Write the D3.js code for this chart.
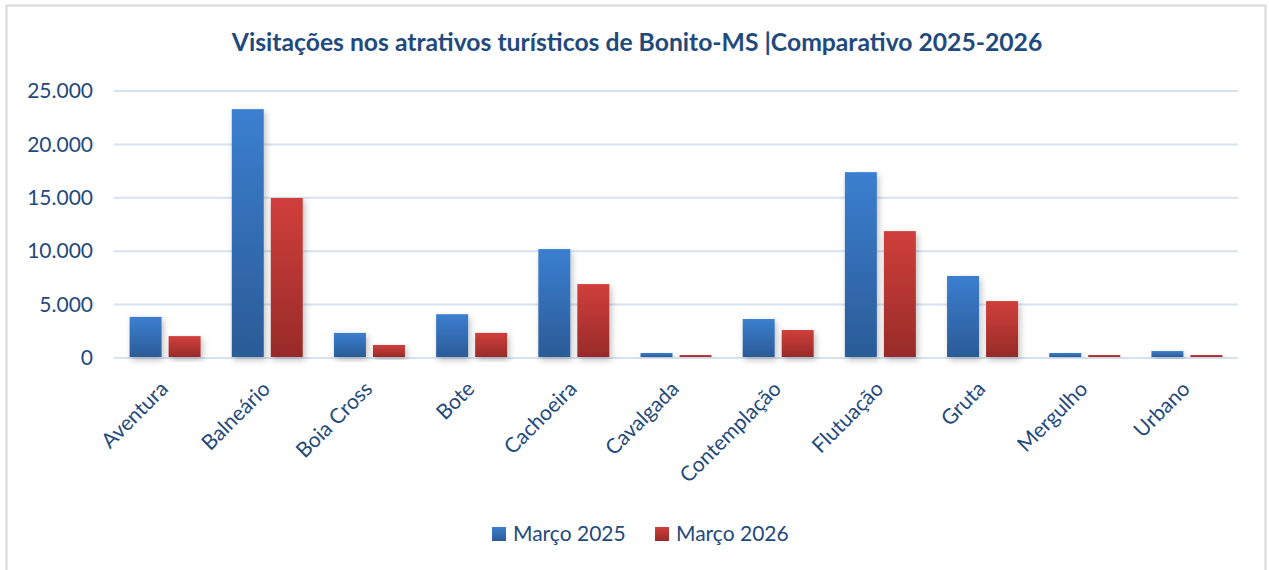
<!DOCTYPE html>
<html>
<head>
<meta charset="utf-8">
<script src="https://cdn.jsdelivr.net/npm/d3@7"></script>
<style>
  body { margin: 0; background: #fff; }
  svg { display: block; font-family: Lato, "Open Sans", sans-serif; }
</style>
</head>
<body>
<div id="chart"></div>
<script>
// data
var categories = ["Aventura", "Balneário", "Boia Cross", "Bote", "Cachoeira", "Cavalgada",
                  "Contemplação", "Flutuação", "Gruta", "Mergulho", "Urbano"];
var seriesNames = ["Março 2025", "Março 2026"];
var marco2025 = [3850, 23300, 2350, 4100, 10200, 470, 3650, 17400, 7680, 470, 650];
var marco2026 = [2050, 14980, 1220, 2350, 6920, 280, 2620, 11880, 5330, 280, 280];
var yTicks = [0, 5000, 10000, 15000, 20000, 25000];
var titleText = "Visitações nos atrativos turísticos de Bonito-MS |Comparativo 2025-2026";

var width = 1269, height = 570;
var margin = {top: 91, right: 31, bottom: 212, left: 114};
var textColor = "#1f4a7d";

var svg = d3.select("#chart").append("svg")
  .attr("width", width)
  .attr("height", height);

var defs = svg.append("defs");
function grad(id, top, bottom) {
  var g = defs.append("linearGradient").attr("id", id)
    .attr("x1", 0).attr("y1", 0).attr("x2", 0).attr("y2", 1);
  g.append("stop").attr("offset", "0%").attr("stop-color", top);
  g.append("stop").attr("offset", "100%").attr("stop-color", bottom);
}
grad("g0", "#3b7fd0", "#2b5b97");
grad("g1", "#d03f3b", "#982b29");

var shadow = defs.append("filter").attr("id", "shadow")
  .attr("x", "-30%").attr("y", "-10%").attr("width", "170%").attr("height", "130%");
shadow.append("feDropShadow")
  .attr("dx", 2).attr("dy", 3).attr("stdDeviation", 3)
  .attr("flood-color", "#000").attr("flood-opacity", 0.25);

// outer border
svg.append("rect")
  .attr("x", 6.5).attr("y", 5.5)
  .attr("width", 1259).attr("height", 600)
  .attr("fill", "#fff")
  .attr("stroke", "#d9d9d9").attr("stroke-width", 2);

// title
var title = svg.append("text")
  .attr("x", 637).attr("y", 51)
  .attr("text-anchor", "middle")
  .attr("fill", textColor)
  .attr("font-weight", "bold")
  .attr("font-size", 21)
  .text(titleText);
// fit the title to the width it has in the picture
var tl = title.node().getComputedTextLength();
title.attr("font-size", 21 * 811 / tl);

var x0 = d3.scaleBand()
  .domain(categories)
  .range([margin.left, width - margin.right]);

var x1 = d3.scaleBand()
  .domain(seriesNames)
  .range([0, x0.bandwidth()])
  .paddingInner(0.18)
  .paddingOuter(0.4);

var y = d3.scaleLinear()
  .domain([0, 25000])
  .range([height - margin.bottom, margin.top]);

var ptBR = d3.formatLocale({decimal: ",", thousands: ".", grouping: [3], currency: ["R$", ""]});
var fmt = ptBR.format(",d");

// gridlines
svg.append("g")
  .selectAll("line")
  .data(yTicks)
  .enter().append("line")
  .attr("x1", margin.left)
  .attr("x2", width - margin.right)
  .attr("y1", function(d) { return y(d); })
  .attr("y2", function(d) { return y(d); })
  .attr("stroke", "#d6e2f1")
  .attr("stroke-width", 2);

// y labels
var yAxis = svg.append("g")
  .attr("transform", "translate(" + margin.left + ",0)")
  .call(d3.axisLeft(y).tickValues(yTicks).tickFormat(fmt).tickSize(0).tickPadding(21));
yAxis.select(".domain").remove();
yAxis.selectAll("text")
  .attr("fill", textColor)
  .attr("font-size", 21)
  .attr("font-family", "Lato, sans-serif");

// bars
var rows = categories.map(function(c, i) {
  return {cat: c, vals: [marco2025[i], marco2026[i]]};
});

var group = svg.append("g")
  .selectAll("g")
  .data(rows)
  .enter().append("g")
  .attr("transform", function(d) { return "translate(" + x0(d.cat) + ",0)"; });

group.selectAll("rect")
  .data(function(d) { return d.vals.map(function(v, k) { return {name: seriesNames[k], k: k, v: v}; }); })
  .enter().append("rect")
  .attr("x", function(d) { return x1(d.name); })
  .attr("width", x1.bandwidth())
  .attr("y", function(d) { return y(d.v); })
  .attr("height", function(d) { return y(0) - 1 - y(d.v); })
  .attr("fill", function(d) { return "url(#g" + d.k + ")"; })
  .attr("filter", "url(#shadow)");

// x labels, rotated
svg.append("g")
  .selectAll("text")
  .data(categories)
  .enter().append("text")
  .attr("transform", function(d) {
    return "translate(" + (x0(d) + x0.bandwidth() / 2 - 1) + "," + (y(0) + 27) + ") rotate(-45)";
  })
  .attr("text-anchor", "end")
  .attr("dy", "0.35em")
  .attr("fill", textColor)
  .attr("font-size", 21)
  .text(function(d) { return d; });

// legend
var legend = svg.append("g").attr("transform", "translate(492,527)");
var items = [{name: seriesNames[0], k: 0, x: 0}, {name: seriesNames[1], k: 1, x: 163}];
var li = legend.selectAll("g").data(items).enter().append("g")
  .attr("transform", function(d) { return "translate(" + d.x + ",0)"; });
li.append("rect")
  .attr("width", 14).attr("height", 14)
  .attr("fill", function(d) { return "url(#g" + d.k + ")"; });
li.append("text")
  .attr("x", 21).attr("y", 7)
  .attr("dy", "0.35em")
  .attr("fill", textColor)
  .attr("font-size", 21)
  .text(function(d) { return d.name; });
</script>
</body>
</html>
